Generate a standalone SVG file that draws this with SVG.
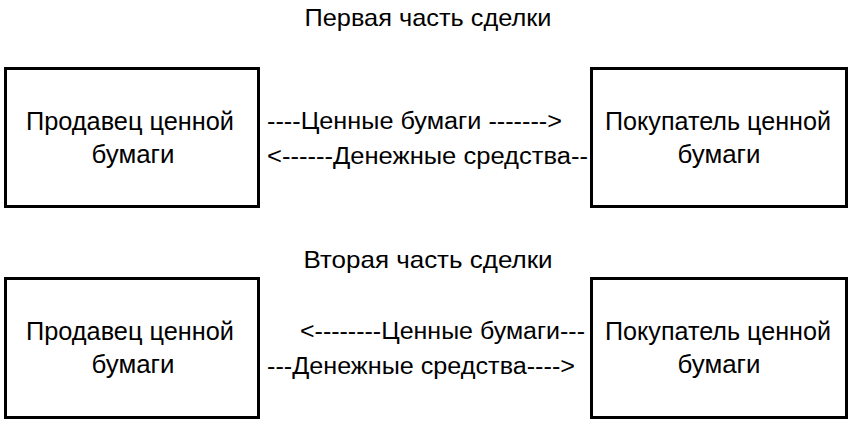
<svg xmlns="http://www.w3.org/2000/svg" width="854" height="430" viewBox="0 0 854 430">
<style>
.box{fill:#fff;stroke:#000;stroke-width:3}
.t{font-family:"Liberation Sans",Arial,sans-serif;font-size:26px;fill:#000}
.h{font-size:24px}
.a{font-size:23px}
.c{text-anchor:middle}
</style>
<rect width="854" height="430" fill="#fff"/>
<text class="t h c" x="428" y="26" textLength="247" lengthAdjust="spacingAndGlyphs">Первая часть сделки</text>
<text class="t h c" x="428" y="268" textLength="249" lengthAdjust="spacingAndGlyphs">Вторая часть сделки</text>
<g id="seller1">
<rect class="box" x="5.5" y="68.5" width="253" height="138"/>
<text class="t c" x="130" y="130" textLength="208" lengthAdjust="spacingAndGlyphs">Продавец ценной</text>
<text class="t c" x="133" y="163" textLength="83" lengthAdjust="spacingAndGlyphs">бумаги</text>
</g>
<g id="buyer1">
<rect class="box" x="591.5" y="68.5" width="255" height="138"/>
<text class="t c" x="718" y="130" textLength="226" lengthAdjust="spacingAndGlyphs">Покупатель ценной</text>
<text class="t c" x="719" y="163" textLength="83" lengthAdjust="spacingAndGlyphs">бумаги</text>
</g>
<g id="seller2">
<rect class="box" x="5.5" y="278.5" width="253" height="139"/>
<text class="t c" x="130" y="340" textLength="208" lengthAdjust="spacingAndGlyphs">Продавец ценной</text>
<text class="t c" x="133" y="373" textLength="83" lengthAdjust="spacingAndGlyphs">бумаги</text>
</g>
<g id="buyer2">
<rect class="box" x="591.5" y="278.5" width="255" height="139"/>
<text class="t c" x="718" y="340" textLength="226" lengthAdjust="spacingAndGlyphs">Покупатель ценной</text>
<text class="t c" x="719" y="373" textLength="83" lengthAdjust="spacingAndGlyphs">бумаги</text>
</g>
<g id="connectors">
<text class="t a" x="267" y="129" textLength="295" lengthAdjust="spacingAndGlyphs">----Ценные бумаги -------&gt;</text>
<text class="t a" x="267" y="164" textLength="321" lengthAdjust="spacingAndGlyphs">&lt;------Денежные средства--</text>
<text class="t a" x="300" y="339" textLength="285" lengthAdjust="spacingAndGlyphs">&lt;--------Ценные бумаги---</text>
<text class="t a" x="267" y="374" textLength="308" lengthAdjust="spacingAndGlyphs">---Денежные средства----&gt;</text>
</g>
</svg>
